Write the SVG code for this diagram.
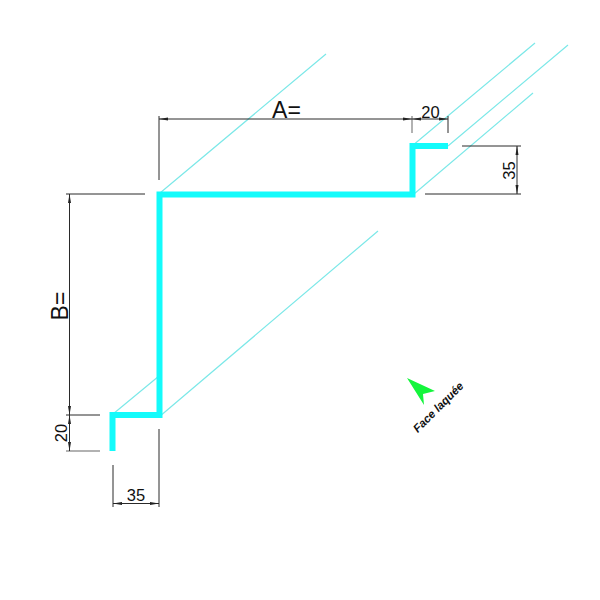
<svg xmlns="http://www.w3.org/2000/svg" width="600" height="600" viewBox="0 0 600 600">
<style>
.p{fill:none;stroke:#14fbfb;stroke-width:6;stroke-linejoin:miter}
.g{fill:none;stroke:#7ce8e8;stroke-width:1.200}
.e{fill:none;stroke:#2a2a2a;stroke-width:1}
.a{fill:none;stroke:#2a2a2a;stroke-width:1;marker-start:url(#h);marker-end:url(#h)}
.t{font-family:"Liberation Sans",Arial,sans-serif;fill:#111;text-anchor:middle}
</style>
<defs><marker id="h" markerUnits="userSpaceOnUse" markerWidth="9" markerHeight="5" refX="9" refY="2.5" orient="auto-start-reverse" viewBox="0 0 9 5"><path d="M9 2.500L0 1V4Z" fill="#222"/></marker></defs>
<rect width="600" height="600" fill="#fff"/>
<g id="guides">
<path class="g" d="M160 193L326 54M412 146L535 43M448 146L568 45M414 194L533 93M159 417L378 231M113 414L159 376"/>
</g>
<g id="profile"><path class="p" d="M112.500 451V415H159.500V194.500H412.500V146H448"/></g>
<g id="connectors">
<path class="e" d="M159 116V180M66 194H145M66 415H100M462 146H521M425 194H521M113 465V507M159 429V507M448 116V133"/>
<path d="M412 116V133M66 451H100" fill="none" stroke="#999" stroke-width="1.500"/>
<path class="a" d="M159 119H412"/>
<path class="a" d="M412 119H448"/>
<path class="a" d="M517 146V194"/>
<path class="a" d="M69.500 194V415"/>
<path class="a" d="M69.500 415V451"/>
<path class="a" d="M113 503.500H159"/>
</g>
<g id="labels">
<text class="t" x="286.500" y="118" font-size="23">A=</text>
<text class="t" x="430.500" y="118" font-size="16.500">20</text>
<text class="t" transform="translate(515,170.500) rotate(-90)" font-size="16.500">35</text>
<text class="t" transform="translate(68,306) rotate(-90)" font-size="23">B=</text>
<text class="t" transform="translate(67,433) rotate(-90)" font-size="16.500">20</text>
<text class="t" x="136" y="501" font-size="16.500">35</text>
</g>
<g id="face">
<path d="M407 378L435 391L423 394L424 405Z" fill="#14f53c"/>
<text class="t" transform="translate(441,410) rotate(-45)" font-size="11.500" font-weight="bold" font-style="italic">Face laquée</text>
</g>
</svg>
